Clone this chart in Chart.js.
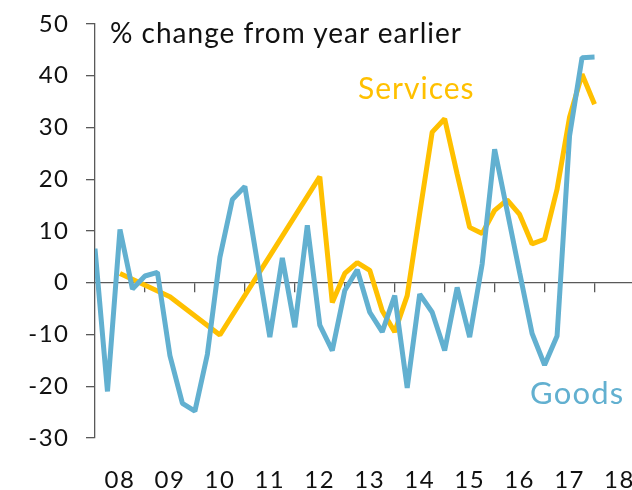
<!DOCTYPE html>
<html><head><meta charset="utf-8">
<script src="https://cdn.jsdelivr.net/npm/chart.js@4/dist/chart.umd.min.js"></script>
<style>
html,body{margin:0;padding:0;background:#fff;}
#wrap{position:relative;width:632px;height:490px;overflow:hidden;background:#fff;}
#c{position:absolute;left:0;top:0;}
.lbl{position:absolute;white-space:nowrap;font-family:Lato,sans-serif;line-height:1;}
</style></head><body>
<div id="wrap">
<canvas id="c" width="632" height="490"></canvas>
<div class="lbl" id="title" style="left:110px;top:18px;font-size:28px;letter-spacing:1px;color:#111;">% change from year earlier</div>
<div class="lbl" id="svc" style="left:358px;top:72px;font-size:30px;letter-spacing:1px;color:#FFC000;">Services</div>
<div class="lbl" id="gds" style="left:530px;top:377px;font-size:31px;letter-spacing:1.2px;color:#62B0D0;">Goods</div>
</div>
<script>
// year labels (quarters indexed from 2008 Q1 = 0)
const yearLabels = ['08','09','10','11','12','13','14','15','16','17','18'];
const yearTickQuarters = [4,8,12,16,20,24,28,32,36,40];
const yTickMin = -30, yTickMax = 50, yTickStep = 10;

// Goods, % change from year earlier, quarterly 2008Q1..2018Q1
const goods = [6.6,-21,10.3,-1.2,1.3,2.0,-14.1,-23.3,-24.8,-13.8,
  4.9,16.1,18.6,4.0,-10.5,4.8,-8.6,11.1,-8.2,-13.1,
  -1.5,2.5,-5.7,-9.5,-2.5,-20.3,-2.2,-5.7,-13.1,-0.9,
  -10.5,3.6,25.8,13.9,2.0,-9.8,-15.9,-10.3,28.4,43.5,43.6];

// Services, same quarters (annual observations early on, null = no observation)
const services = [null,null,1.8,null,null,null,-2.7,null,null,null,
  -10.1,null,null,null,5.2,null,null,null,20.5,-3.8,
  1.8,3.9,2.4,-5.4,-9.5,-2.5,13.4,29.1,31.7,21.0,
  10.7,9.5,14.0,16.0,13.2,7.5,8.4,18.1,32.0,40.3,34.5];

const toPts = arr => arr.map((v,i)=>({x:i,y:v})).filter(p=>p.y!==null);

const axisColor = '#595959';
const tickFont = {family:'Lato', size:24};

const spacingPlugin = {
  id:'spacing',
  beforeDraw(chart){ chart.ctx.letterSpacing = '1.5px'; }
};

new Chart(document.getElementById('c'), {
  type:'line',
  data:{
    datasets:[
      {label:'Goods', data:toPts(goods), borderColor:'#62B0D0', xAxisID:'x', yAxisID:'y'},
      {label:'Services', data:toPts(services), borderColor:'#FFC000', xAxisID:'x', yAxisID:'y'}
    ]
  },
  plugins:[spacingPlugin],
  options:{
    responsive:false, animation:false,
    layout:{padding:{top:24,right:0,bottom:0,left:0}},
    plugins:{legend:{display:false}, tooltip:{enabled:false}},
    elements:{
      point:{radius:0, hoverRadius:0},
      line:{borderWidth:5, tension:0, borderJoinStyle:'bevel', borderCapStyle:'butt', fill:false}
    },
    scales:{
      x:{
        type:'linear', min:0, max:43, position:{y:0},
        grid:{drawOnChartArea:false, drawTicks:true, tickLength:9, color:axisColor, lineWidth:1.3},
        border:{display:true, color:axisColor, width:1.3},
        ticks:{display:false},
        afterBuildTicks:s=>{ s.ticks = yearTickQuarters.map(v=>({value:v})); }
      },
      x2:{
        type:'linear', axis:'x', min:0, max:43, position:'bottom',
        grid:{display:false, drawTicks:false},
        border:{display:false},
        ticks:{padding:28, font:tickFont, color:'#111', maxRotation:0, autoSkip:false,
          callback:(v,i)=>yearLabels[i]},
        afterBuildTicks:s=>{ s.ticks = yearLabels.map((l,k)=>({value:2+4*k})); },
        afterFit:s=>{ s.height = 52; s.paddingLeft = 0; s.paddingRight = 0; }
      },
      y:{
        min:yTickMin, max:yTickMax, position:'left',
        ticks:{stepSize:yTickStep, padding:16.5, font:tickFont, color:'#111'},
        grid:{drawOnChartArea:false, tickLength:9, color:axisColor, lineWidth:1.3},
        border:{color:axisColor, width:1.3},
        afterFit:s=>{ s.width = 95; s.paddingTop = 0; s.paddingBottom = 0; }
      }
    }
  }
});
</script>
</body></html>
